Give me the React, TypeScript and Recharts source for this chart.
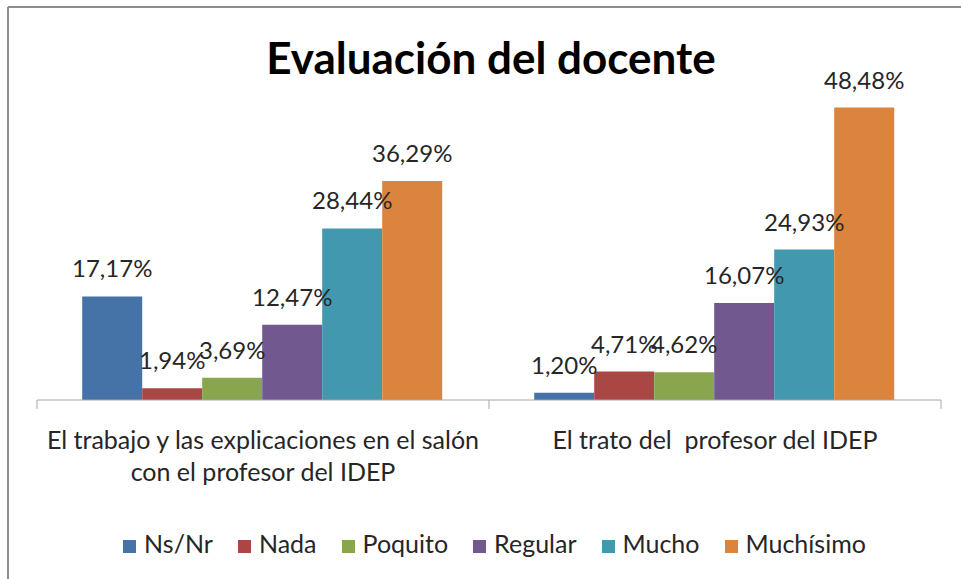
import React from 'react';
import { BarChart, Bar, XAxis, YAxis, Legend } from 'recharts';

// categories (each split into the lines shown under the axis)
const categories = [
  'El trabajo y las explicaciones en el salón con el profesor del IDEP',
  'El trato del  profesor del IDEP',
];
const categoryLines = [
  ['El trabajo y las explicaciones en el salón', 'con el profesor del IDEP'],
  ['El trato del  profesor del IDEP'],
];

// percentages per answer
const nsNr = [17.17, 1.2];
const nada = [1.94, 4.71];
const poquito = [3.69, 4.62];
const regular = [12.47, 16.07];
const mucho = [28.44, 24.93];
const muchisimo = [36.29, 48.48];

const seriesNames = ['Ns/Nr', 'Nada', 'Poquito', 'Regular', 'Mucho', 'Muchísimo'];
const seriesKeys = ['nsNr', 'nada', 'poquito', 'regular', 'mucho', 'muchisimo'];
const seriesValues = [nsNr, nada, poquito, regular, mucho, muchisimo];
const colors = ['#4572A7', '#AA4643', '#89A54E', '#71588F', '#4198AF', '#DB843D'];

const yDomain = [0, 60];

const data = categories.map((name, i) => {
  const row: Record<string, any> = { name, idx: i };
  seriesKeys.forEach((k, s) => {
    row[k] = seriesValues[s][i];
  });
  return row;
});

const FONT = 'Lato, sans-serif';
const TEXT = '#262626';
const AXIS = '#a6a6a6';

const fmt = (v: number) => v.toFixed(2).replace('.', ',') + '%';

function CategoryTick(props: any) {
  const { x, y, payload, index } = props;
  const half = payload && payload.offset ? payload.offset : 226;
  const lines = categoryLines[index] || [String(payload.value)];
  const last = index === categories.length - 1;
  return (
    <g>
      <line x1={x - half} x2={x - half} y1={y} y2={y + 9} stroke={AXIS} />
      {last && <line x1={x + half} x2={x + half} y1={y} y2={y + 9} stroke={AXIS} />}
      <text textAnchor="middle" fill={TEXT} fontFamily={FONT} fontSize={25} style={{ whiteSpace: 'pre' }}>
        {lines.map((l, i) => (
          <tspan key={i} x={x} y={y + 49 + i * 32}>
            {l}
          </tspan>
        ))}
      </text>
    </g>
  );
}

function renderLabel(p: any) {
  return (
    <text
      x={p.x + p.width / 2}
      y={p.y - 19}
      textAnchor="middle"
      fill={TEXT}
      fontFamily={FONT}
      fontSize={24}
    >
      {fmt(Number(p.value))}
    </text>
  );
}

function LegendBox(props: any) {
  const items = [...(props.payload || [])].sort(
    (a: any, b: any) => seriesNames.indexOf(a.value) - seriesNames.indexOf(b.value)
  );
  return (
    <div style={{ display: 'flex', justifyContent: 'center', fontFamily: FONT, fontSize: 25, color: TEXT, whiteSpace: 'nowrap' }}>
      {items.map((entry: any, i: number) => (
        <span key={i} style={{ marginRight: i < items.length - 1 ? 25 : 0 }}>
          <span style={{ display: 'inline-block', width: 13, height: 13, background: entry.color, marginRight: 8 }} />
          {entry.value}
        </span>
      ))}
    </div>
  );
}

export default function App() {
  return (
    <div style={{ position: 'absolute', left: 0, top: 0, width: 961, height: 579, background: '#fff' }}>
      <BarChart
        width={961}
        height={579}
        data={data}
        margin={{ top: 38, right: 20, bottom: 0, left: 37 }}
        barCategoryGap="10%"
        barGap={0}
      >
        <XAxis
          dataKey="name"
          height={179}
          interval={0}
          tickSize={0}
          tickMargin={0}
          tickLine={false}
          axisLine={{ stroke: AXIS, strokeWidth: 1 }}
          tick={<CategoryTick />}
        />
        <YAxis hide domain={yDomain} />
        {seriesKeys.map((k, s) => (
          <Bar key={k} dataKey={k} name={seriesNames[s]} fill={colors[s]} isAnimationActive={false} label={renderLabel} />
        ))}
        <Legend
          verticalAlign="middle"
          layout="horizontal"
          align="center"
          wrapperStyle={{ top: 528, left: 14, width: 961, height: 34 }}
          content={<LegendBox />}
        />
      </BarChart>
      <svg width={961} height={579} style={{ position: 'absolute', left: 0, top: 0, pointerEvents: 'none' }}>
        <line x1={8} y1={7} x2={961} y2={7} stroke="#8c8c8c" strokeWidth={2} />
        <line x1={8} y1={7} x2={8} y2={579} stroke="#8c8c8c" strokeWidth={2} />
        <text x={491} y={74} textAnchor="middle" fontFamily={FONT} fontWeight="bold" fontSize={44} fill="#000">
          Evaluación del docente
        </text>
      </svg>
    </div>
  );
}
